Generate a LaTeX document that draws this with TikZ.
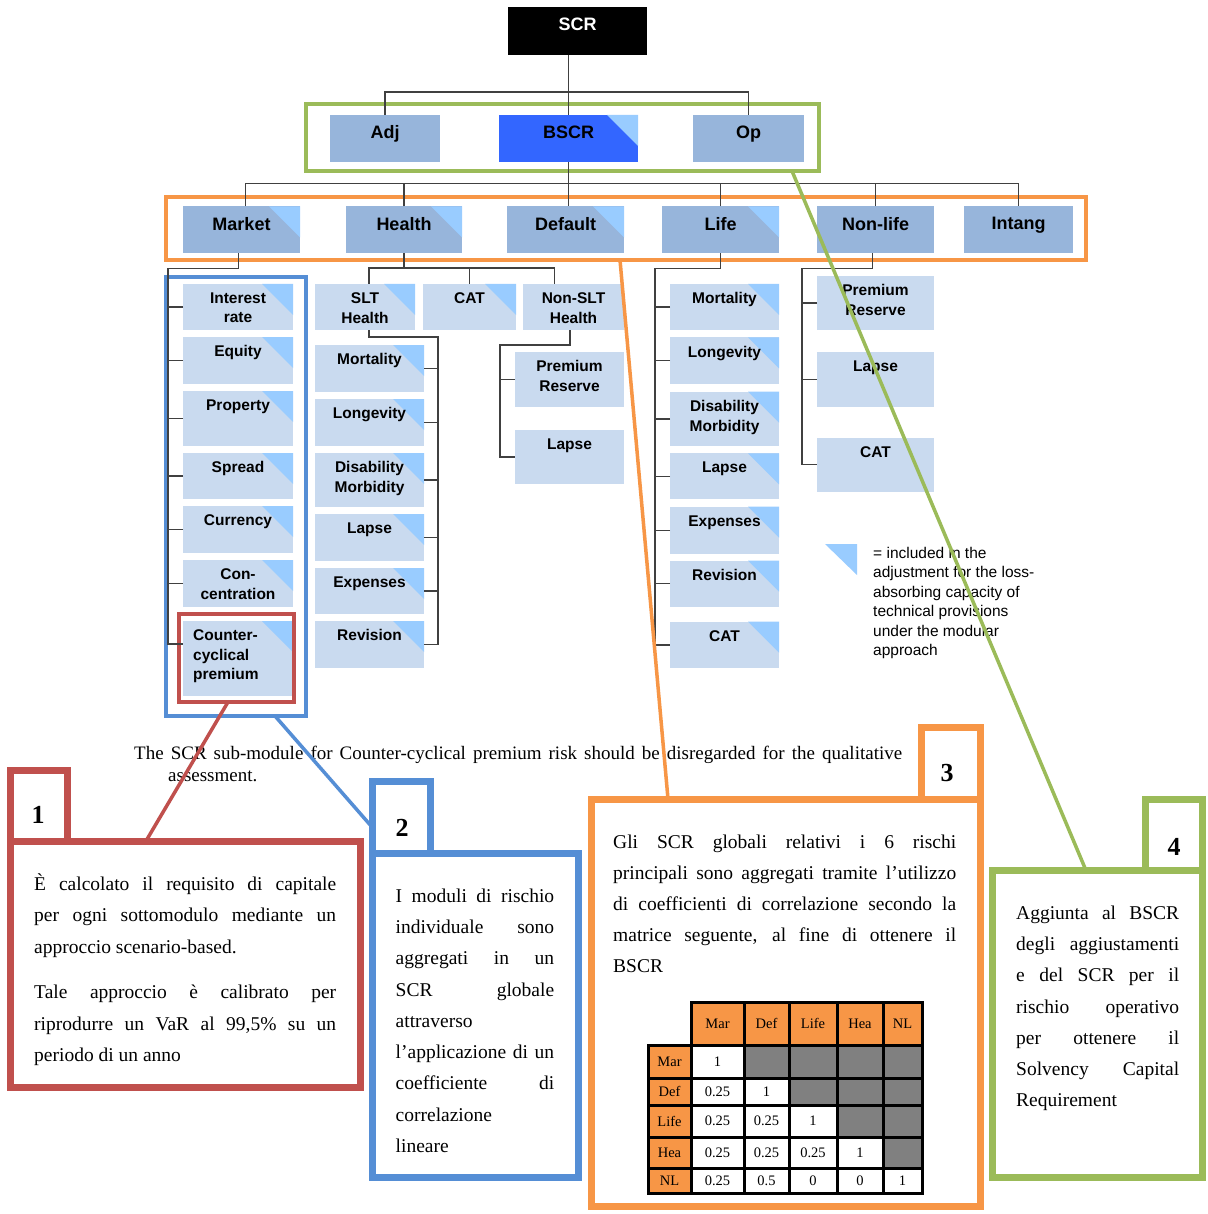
\documentclass[tikz,border=0pt]{standalone}
\usepackage{fontspec}
\setmainfont{Liberation Serif}
\setsansfont{Liberation Sans}
\definecolor{topfill}{HTML}{97B5DB}
\definecolor{subfill}{HTML}{C9DAEF}
\definecolor{trifill}{HTML}{99CCFF}
\definecolor{bscrfill}{HTML}{3366FF}
\definecolor{cgreen}{HTML}{9BBB59}
\definecolor{corange}{HTML}{F79646}
\definecolor{cblue}{HTML}{558ED5}
\definecolor{cred}{HTML}{C0504D}
\definecolor{cline}{HTML}{404040}
\definecolor{cgray}{HTML}{808080}
\tikzset{
  boxshape/.style={rectangle, inner sep=0pt, outer sep=0pt, draw=none, anchor=north west},
  topbox/.style={boxshape, fill=topfill},
  subbox/.style={boxshape, fill=subfill},
  toplbl/.style={anchor=north, inner sep=0pt, yshift=-10.5pt, align=center,
    font=\sffamily\bfseries\fontsize{18}{22}\selectfont},
  sublbl/.style={anchor=north, inner sep=0pt, yshift=-8.5pt, align=center,
    font=\sffamily\bfseries\fontsize{15.5}{19.5}\selectfont},
  sublblL/.style={sublbl, anchor=north west, align=left, xshift=-45pt},
  conn/.style={draw=cline, line width=1.3pt},
  frame/.style={rectangle, inner sep=0pt, outer sep=0pt, anchor=north west, fill=none},
  thinframe/.style={frame, line width=4pt},
  boldframe/.style={frame, line width=7pt},
  callout/.style={line width=3.5pt},
  numlbl/.style={inner sep=0pt, font=\bfseries\fontsize{26}{30}\selectfont},
  body/.style={anchor=north west, inner sep=0pt, align=left},
  mtxt/.style={inner sep=0pt, font=\fontsize{14.5}{17}\selectfont},
  legend/.style={anchor=north west, inner sep=0pt, align=left,
    font=\sffamily\fontsize{15.5}{19.5}\selectfont},
  captxt/.style={anchor=base west, inner sep=0pt, font=\fontsize{19}{22}\selectfont}
}
\newcommand\cornertri[1]{\fill[trifill] ([xshift=-31pt]#1.north east) -- (#1.north east) -- ([yshift=-31pt]#1.north east) -- cycle;}
% name, x, y, w, h, box style, label style, text, triangle flag
\newcommand\riskbox[9]{%
  \node[#6, minimum width=#4pt, minimum height=#5pt] (#1) at (#2,#3) {};
  \ifnum#9=1 \cornertri{#1}\fi
  \node[#7] (#1-t) at (#1.north) {#8};
}
\newcommand\mxcell[7]{%
  \draw[fill=#6, line width=3pt] (#2,#3) rectangle (#4,#5);
  \node[mtxt] (#1) at ({(#2+#4)/2},{(#3+#5)/2}) {#7};
}
\begin{document}
\begin{tikzpicture}[x=1pt, y=-1pt]
\useasboundingbox (0,0) rectangle (1207,1214);
\fill[white] (0,0) rectangle (1207,1214);

% ---------- frames ----------
\node[thinframe, draw=cgreen, minimum width=513pt, minimum height=67pt] (gfr) at (306,104) {};
\node[thinframe, draw=corange, minimum width=920pt, minimum height=62.5pt] (ofr) at (166,197.5) {};
\node[thinframe, draw=cblue, minimum width=140pt, minimum height=439pt] (bfr) at (166.3,277) {};

% ---------- level 0/1 ----------
\riskbox{scr}{508}{7}{139}{48}{topbox, fill=black}{toplbl, text=white}{SCR}{0}
\riskbox{adj}{330}{115}{110}{47}{topbox}{toplbl}{Adj}{0}
\riskbox{bscr}{499}{115}{139}{47}{topbox, fill=bscrfill}{toplbl}{BSCR}{1}
\riskbox{op}{693}{115}{111}{47}{topbox}{toplbl}{Op}{0}

% ---------- level 2 ----------
\riskbox{market}{183}{206.5}{117}{47}{topbox}{toplbl}{Market}{1}
\riskbox{health}{346}{206.5}{116}{47}{topbox}{toplbl}{Health}{1}
\riskbox{default}{507}{206.5}{117}{47}{topbox}{toplbl}{Default}{1}
\riskbox{life}{662}{206.5}{117}{47}{topbox}{toplbl}{Life}{1}
\riskbox{nonlife}{817}{206.5}{117}{47}{topbox}{toplbl}{Non-life}{0}
\riskbox{intang}{964}{206.5}{109}{47}{topbox}{toplbl}{Intang}{0}

% ---------- market sub-modules ----------
\riskbox{ir}{183}{284}{110}{46}{subbox}{sublbl}{Interest\\rate}{1}
\riskbox{eq}{183}{337}{110}{47}{subbox}{sublbl}{Equity}{1}
\riskbox{prop}{183}{391}{110}{55}{subbox}{sublbl}{Property}{1}
\riskbox{spread}{183}{453}{110}{46}{subbox}{sublbl}{Spread}{1}
\riskbox{curr}{183}{506}{110}{47}{subbox}{sublbl}{Currency}{1}
\riskbox{conc}{183}{560}{110}{47}{subbox}{sublbl}{Con-\\centration}{1}
\riskbox{cc}{183}{621}{110}{75}{subbox}{sublblL}{Counter-\\cyclical\\premium}{1}
\node[thinframe, draw=cred, minimum width=115pt, minimum height=88.3pt] (rfr) at (178.7,613.7) {};

% ---------- health sub-modules ----------
\riskbox{slt}{315}{284}{100}{46}{subbox}{sublbl}{SLT\\Health}{1}
\riskbox{hcat}{423}{284}{93}{46}{subbox}{sublbl}{CAT}{1}
\riskbox{nslt}{523}{284}{101}{46}{subbox}{sublbl}{Non-SLT\\Health}{0}
\riskbox{hmort}{315}{345}{109}{47}{subbox}{sublbl}{Mortality}{1}
\riskbox{hlong}{315}{399}{109}{47}{subbox}{sublbl}{Longevity}{1}
\riskbox{hdis}{315}{453}{109}{54}{subbox}{sublbl}{Disability\\Morbidity}{1}
\riskbox{hlapse}{315}{514}{109}{47}{subbox}{sublbl}{Lapse}{1}
\riskbox{hexp}{315}{568}{109}{46}{subbox}{sublbl}{Expenses}{1}
\riskbox{hrev}{315}{621}{109}{47}{subbox}{sublbl}{Revision}{1}
\riskbox{npr}{515}{352}{109}{55}{subbox}{sublbl}{Premium\\Reserve}{0}
\riskbox{nlapse}{515}{430}{109}{54}{subbox}{sublbl}{Lapse}{0}

% ---------- life sub-modules ----------
\riskbox{lmort}{670}{284}{109}{46}{subbox}{sublbl}{Mortality}{1}
\riskbox{llong}{670}{337.3}{109}{47}{subbox}{sublbl}{Longevity}{1}
\riskbox{ldis}{670}{391.7}{109}{54.3}{subbox}{sublbl}{Disability\\Morbidity}{1}
\riskbox{llapse}{670}{453.3}{109}{46}{subbox}{sublbl}{Lapse}{1}
\riskbox{lexp}{670}{506.7}{109}{47}{subbox}{sublbl}{Expenses}{1}
\riskbox{lrev}{670}{560.7}{109}{46}{subbox}{sublbl}{Revision}{1}
\riskbox{lcat}{670}{621.7}{109}{46.7}{subbox}{sublbl}{CAT}{1}

% ---------- non-life sub-modules ----------
\riskbox{nlpr}{817}{276}{117}{54}{subbox}{sublbl}{Premium\\Reserve}{0}
\riskbox{nllapse}{817}{352.3}{117}{55}{subbox}{sublbl}{Lapse}{0}
\riskbox{nlcat}{817}{437.7}{117}{54}{subbox}{sublbl}{CAT}{0}

% ---------- tree connectors ----------
\draw[conn] (bscr.north |- scr.south) -- (bscr.north);
\draw[conn] (adj.north) -- ++(0,-23) -| (op.north);
\draw[conn] (bscr.south) -- (bscr.south |- default.north);
\draw[conn] ([xshift=4pt]market.north) -- ++(0,-23) -| (intang.north);
\foreach \nm in {health,life,nonlife} \draw[conn] (\nm.north) -- ++(0,-23);

\draw[conn] ([xshift=-3pt]market.south) -- ++(0,15) -| ([xshift=-15pt,yshift=14.5pt]cc.west) -- ([yshift=14.5pt]cc.west);
\foreach \nm in {ir,eq,prop,spread,curr,conc} \draw[conn] (\nm.west) -- ++(-15,0);

\draw[conn] (health.south) -- ++(0,15);
\draw[conn] ([xshift=4pt]slt.north) -- ++(0,-16) -| ([xshift=-19pt]nslt.north);
\draw[conn] (hcat.north) -- ++(0,-16);
\draw[conn] ([xshift=4pt]slt.south) -- ++(0,7) -| ([xshift=14pt]hrev.east) -- (hrev.east);
\foreach \nm in {hmort,hlong,hdis,hlapse,hexp} \draw[conn] (\nm.east) -- ++(14,0);
\draw[conn] ([xshift=-3.5pt]nslt.south) -- ++(0,15) -| ([xshift=-15pt]nlapse.west) -- (nlapse.west);
\draw[conn] (npr.west) -- ++(-15,0);

\draw[conn] (life.south) -- ++(0,15) -| ([xshift=-15pt]lcat.west) -- (lcat.west);
\foreach \nm in {lmort,llong,ldis,llapse,lexp,lrev} \draw[conn] (\nm.west) -- ++(-15,0);

\draw[conn] ([xshift=-3pt]nonlife.south) -- ++(0,15) -| ([xshift=-15pt]nlcat.west) -- (nlcat.west);
\foreach \nm in {nlpr,nllapse} \draw[conn] (\nm.west) -- ++(-15,0);

% ---------- legend ----------
\fill[trifill] (825,544) -- (857,544) -- (857,575) -- cycle;
\node[legend] (leg) at (873,544.4) {\strut= included in the\\adjustment for the loss-\\absorbing capacity of\\technical provisions\\under the modular\\approach};

% ---------- caption ----------
\node[captxt] (cap1) at (134,759) {\makebox[768pt][s]{The SCR sub-module for Counter-cyclical premium risk should be disregarded for the qualitative}};
\node[captxt] (cap2) at (168,781) {assessment.};

% ---------- box 1 ----------
\node[boldframe, draw=cred, minimum width=57pt, minimum height=71pt] (tab1) at (10,770) {};
\node[boldframe, draw=cred, minimum width=350pt, minimum height=246pt] (b1) at (10,841) {};
\node[numlbl] (n1) at (38,815) {1};
\node[body, font=\fontsize{19.5}{31.5}\selectfont] (t1) at (34,867.9) {%
\strut\makebox[302pt][s]{È calcolato il requisito di capitale}\\
\makebox[302pt][s]{per ogni sottomodulo mediante un}\\
approccio scenario-based.\\[14pt]
\makebox[302pt][s]{Tale approccio è calibrato per}\\
\makebox[302pt][s]{riprodurre un VaR al 99,5\% su un}\\
periodo di un anno};

% ---------- box 2 ----------
\node[boldframe, draw=cblue, minimum width=58pt, minimum height=72pt] (tab2) at (372,781) {};
\node[boldframe, draw=cblue, minimum width=206pt, minimum height=324pt] (b2) at (372,853) {};
\node[numlbl] (n2) at (402,828) {2};
\node[body, font=\fontsize{19.5}{31.25}\selectfont] (t2) at (395.5,880.4) {%
\strut\makebox[158.5pt][s]{I moduli di rischio}\\
\makebox[158.5pt][s]{individuale sono}\\
\makebox[158.5pt][s]{aggregati in un}\\
\makebox[158.5pt][s]{SCR globale}\\
attraverso\\
\makebox[158.5pt][s]{l’applicazione di un}\\
\makebox[158.5pt][s]{coefficiente di}\\
correlazione\\
lineare};

% ---------- box 3 ----------
\node[boldframe, draw=corange, minimum width=59pt, minimum height=72pt] (tab3) at (921,727) {};
\node[boldframe, draw=corange, minimum width=389pt, minimum height=407pt] (b3) at (591,799) {};
\node[numlbl] (n3) at (947,773) {3};
\node[body, font=\fontsize{19.5}{31}\selectfont] (t3) at (613,827) {%
\strut\makebox[343pt][s]{Gli SCR globali relativi i 6 rischi}\\
\makebox[343pt][s]{principali sono aggregati tramite l’utilizzo}\\
\makebox[343pt][s]{di coefficienti di correlazione secondo la}\\
\makebox[343pt][s]{matrice seguente, al fine di ottenere il}\\
BSCR};

% correlation matrix
\mxcell{hmar}{691}{1002}{744}{1045}{corange}{Mar}
\mxcell{hdef}{744}{1002}{789}{1045}{corange}{Def}
\mxcell{hlife}{789}{1002}{837}{1045}{corange}{Life}
\mxcell{hhea}{837}{1002}{883}{1045}{corange}{Hea}
\mxcell{hnl}{883}{1002}{922}{1045}{corange}{NL}
\mxcell{rmar}{648}{1045}{691}{1078}{corange}{Mar}
\mxcell{rdef}{648}{1078}{691}{1105}{corange}{Def}
\mxcell{rlife}{648}{1105}{691}{1137}{corange}{Life}
\mxcell{rhea}{648}{1137}{691}{1168}{corange}{Hea}
\mxcell{rnl}{648}{1168}{691}{1193}{corange}{NL}
% row Mar
\mxcell{c11}{691}{1045}{744}{1078}{white}{1}
\mxcell{c12}{744}{1045}{789}{1078}{cgray}{}
\mxcell{c13}{789}{1045}{837}{1078}{cgray}{}
\mxcell{c14}{837}{1045}{883}{1078}{cgray}{}
\mxcell{c15}{883}{1045}{922}{1078}{cgray}{}
% row Def
\mxcell{c21}{691}{1078}{744}{1105}{white}{0.25}
\mxcell{c22}{744}{1078}{789}{1105}{white}{1}
\mxcell{c23}{789}{1078}{837}{1105}{cgray}{}
\mxcell{c24}{837}{1078}{883}{1105}{cgray}{}
\mxcell{c25}{883}{1078}{922}{1105}{cgray}{}
% row Life
\mxcell{c31}{691}{1105}{744}{1137}{white}{0.25}
\mxcell{c32}{744}{1105}{789}{1137}{white}{0.25}
\mxcell{c33}{789}{1105}{837}{1137}{white}{1}
\mxcell{c34}{837}{1105}{883}{1137}{cgray}{}
\mxcell{c35}{883}{1105}{922}{1137}{cgray}{}
% row Hea
\mxcell{c41}{691}{1137}{744}{1168}{white}{0.25}
\mxcell{c42}{744}{1137}{789}{1168}{white}{0.25}
\mxcell{c43}{789}{1137}{837}{1168}{white}{0.25}
\mxcell{c44}{837}{1137}{883}{1168}{white}{1}
\mxcell{c45}{883}{1137}{922}{1168}{cgray}{}
% row NL
\mxcell{c51}{691}{1168}{744}{1193}{white}{0.25}
\mxcell{c52}{744}{1168}{789}{1193}{white}{0.5}
\mxcell{c53}{789}{1168}{837}{1193}{white}{0}
\mxcell{c54}{837}{1168}{883}{1193}{white}{0}
\mxcell{c55}{883}{1168}{922}{1193}{white}{1}

% ---------- box 4 ----------
\node[boldframe, draw=cgreen, minimum width=57pt, minimum height=71.5pt] (tab4) at (1145,799) {};
\node[boldframe, draw=cgreen, minimum width=210pt, minimum height=306.5pt] (b4) at (992,870.5) {};
\node[numlbl] (n4) at (1174,847) {4};
\node[body, font=\fontsize{19.5}{31.2}\selectfont] (t4) at (1016,897.5) {%
\strut\makebox[163pt][s]{Aggiunta al BSCR}\\
\makebox[163pt][s]{degli aggiustamenti}\\
\makebox[163pt][s]{e del SCR per il}\\
\makebox[163pt][s]{rischio operativo}\\
\makebox[163pt][s]{per ottenere il}\\
\makebox[163pt][s]{Solvency Capital}\\
Requirement};

% ---------- callout lines ----------
\draw[callout, cred] ([xshift=49.3pt]rfr.south west) -- ([xshift=136pt]b1.north west);
\draw[callout, cblue] ([xshift=108.7pt]bfr.south west) -- ([yshift=26pt]tab2.south west);
\draw[callout, corange] ([xshift=454pt]ofr.south west) -- ([xshift=77pt]b3.north west);
\draw[callout, cgreen] ([xshift=486pt]gfr.south west) -- ([xshift=94pt]b4.north west);
\end{tikzpicture}
\end{document}
